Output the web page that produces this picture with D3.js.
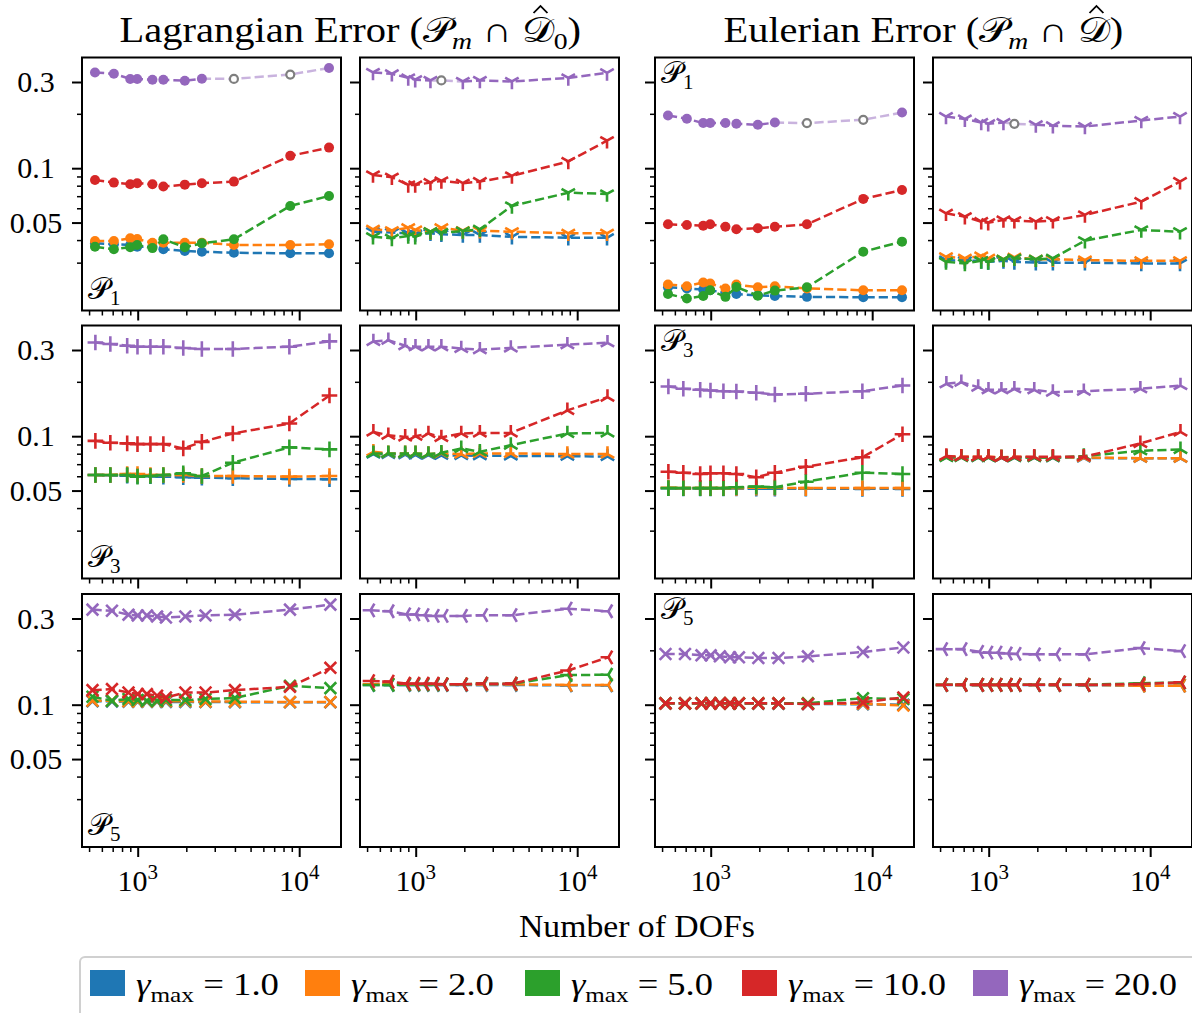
<!DOCTYPE html>
<html><head><meta charset="utf-8">
<script src="https://cdn.jsdelivr.net/npm/d3@7"></script>
<style>
body{margin:0;background:#fff}
svg{display:block}
text{font-family:"Liberation Serif","DejaVu Serif",serif;fill:#000}
</style>
</head><body>
<svg id="chart" width="1192" height="1013"></svg>
<script>
// gamma_max levels and their colours (tab10)
const gammaMax = ["1.0", "2.0", "5.0", "10.0", "20.0"];
const seriesColors = ["#1f77b4", "#ff7f0e", "#2ca02c", "#d62728", "#9467bd"];

// number of degrees of freedom per refinement level, for each polynomial order
const dofsP1 = [544, 712, 899, 993, 1234, 1442, 1958, 2497, 3943, 8806, 15300];
const dofsP3 = [547, 677, 861, 997, 1199, 1442, 1915, 2496, 3881, 8693, 15400];
const dofsP5 = [525, 693, 877, 1000, 1140, 1318, 1496, 1972, 2630, 4000, 8770, 15600];

// Lagrangian error, first scheme (one row per gamma_max)
const lagP1A = [
  [0.0384, 0.0379, 0.0376, 0.0367, 0.0367, 0.0356, 0.0348, 0.0345, 0.0340, 0.0338, 0.0338],
  [0.0395, 0.0395, 0.0409, 0.0405, 0.0387, 0.0387, 0.0387, 0.0387, 0.0376, 0.0376, 0.0379],
  [0.0367, 0.0356, 0.0365, 0.0376, 0.0361, 0.0404, 0.0365, 0.0384, 0.0404, 0.0618, 0.0702],
  [0.0860, 0.0832, 0.0815, 0.0826, 0.0815, 0.0791, 0.0811, 0.0826, 0.0843, 0.117, 0.130],
  [0.339, 0.333, 0.312, 0.312, 0.309, 0.309, 0.305, 0.313, 0.312, 0.330, 0.359]
];
const lagP3A = [
  [0.0610, 0.0608, 0.0605, 0.0602, 0.0600, 0.0597, 0.0593, 0.0590, 0.0585, 0.0580, 0.0578],
  [0.0610, 0.0610, 0.0618, 0.0618, 0.0610, 0.0610, 0.0610, 0.0602, 0.0602, 0.0597, 0.0602],
  [0.0610, 0.0610, 0.0610, 0.0597, 0.0602, 0.0610, 0.0623, 0.0602, 0.0713, 0.0867, 0.0845],
  [0.0942, 0.0919, 0.0912, 0.0904, 0.0904, 0.0904, 0.0856, 0.0930, 0.1035, 0.1175, 0.168],
  [0.330, 0.324, 0.317, 0.313, 0.313, 0.313, 0.308, 0.304, 0.304, 0.313, 0.335]
];
const lagP5A = [
  [0.1045, 0.1043, 0.1040, 0.1040, 0.1038, 0.1038, 0.1036, 0.1035, 0.1034, 0.1033, 0.1031, 0.1031],
  [0.1052, 0.1052, 0.1045, 0.1045, 0.1045, 0.1045, 0.1045, 0.1045, 0.1040, 0.1040, 0.1035, 0.1035],
  [0.1106, 0.1052, 0.1075, 0.1061, 0.1052, 0.1052, 0.1061, 0.1061, 0.1075, 0.1089, 0.1272, 0.1235],
  [0.1204, 0.1220, 0.1168, 0.1145, 0.1145, 0.1121, 0.1097, 0.1168, 0.1168, 0.1204, 0.1256, 0.160],
  [0.336, 0.331, 0.315, 0.312, 0.312, 0.308, 0.304, 0.308, 0.312, 0.315, 0.336, 0.358]
];

// Lagrangian error, second scheme
const lagP1B = [
  [0.0445, 0.0440, 0.0436, 0.0432, 0.0436, 0.0431, 0.0427, 0.0427, 0.0417, 0.0412, 0.0412],
  [0.0459, 0.0451, 0.0468, 0.0455, 0.0445, 0.0468, 0.0451, 0.0451, 0.0445, 0.0436, 0.0436],
  [0.0417, 0.0409, 0.0421, 0.0417, 0.0445, 0.0440, 0.0449, 0.0459, 0.0618, 0.0732, 0.0720],
  [0.0918, 0.0891, 0.0808, 0.0808, 0.0832, 0.0850, 0.0826, 0.0843, 0.0906, 0.109, 0.142],
  [0.339, 0.333, 0.316, 0.309, 0.306, 0.306, 0.302, 0.306, 0.302, 0.316, 0.337]
];
const lagP3B = [
  [0.0796, 0.0793, 0.0790, 0.0788, 0.0786, 0.0784, 0.0782, 0.0780, 0.0778, 0.0775, 0.0772],
  [0.0820, 0.0803, 0.0803, 0.0803, 0.0796, 0.0803, 0.0796, 0.0803, 0.0803, 0.0796, 0.0796],
  [0.0803, 0.0803, 0.0803, 0.0803, 0.0796, 0.0809, 0.0856, 0.0820, 0.0892, 0.1035, 0.1043],
  [0.1056, 0.1013, 0.0991, 0.1000, 0.1035, 0.0984, 0.1035, 0.1043, 0.1043, 0.139, 0.1645],
  [0.3345, 0.340, 0.317, 0.313, 0.313, 0.313, 0.306, 0.301, 0.308, 0.321, 0.329]
];
const lagP5B = [
  [0.1285, 0.1285, 0.1285, 0.1285, 0.1285, 0.1285, 0.1285, 0.1285, 0.1285, 0.1285, 0.1280, 0.1280],
  [0.1297, 0.1297, 0.1297, 0.1297, 0.1297, 0.1297, 0.1297, 0.1297, 0.1297, 0.1297, 0.1286, 0.1286],
  [0.1286, 0.1286, 0.1297, 0.1297, 0.1297, 0.1297, 0.1297, 0.1297, 0.1308, 0.1308, 0.1458, 0.1465],
  [0.1352, 0.1341, 0.1308, 0.1308, 0.1308, 0.1308, 0.1297, 0.1297, 0.1308, 0.1308, 0.1547, 0.183],
  [0.333, 0.329, 0.316, 0.316, 0.313, 0.310, 0.310, 0.310, 0.313, 0.313, 0.340, 0.329]
];

// Eulerian error, first scheme
const eulP1A = [
  [0.0219, 0.0216, 0.0213, 0.0211, 0.0204, 0.0201, 0.0198, 0.0196, 0.0194, 0.0193, 0.0193],
  [0.0227, 0.0222, 0.0233, 0.0230, 0.0216, 0.0227, 0.0219, 0.0222, 0.0216, 0.0211, 0.0211],
  [0.0201, 0.0190, 0.0196, 0.0211, 0.0194, 0.0220, 0.0197, 0.0210, 0.0219, 0.0345, 0.0392],
  [0.0489, 0.0485, 0.0480, 0.0489, 0.0474, 0.0459, 0.0465, 0.0474, 0.0489, 0.0676, 0.0758],
  [0.1957, 0.1877, 0.1777, 0.1777, 0.1777, 0.1761, 0.1738, 0.1790, 0.1777, 0.1853, 0.2034]
];
const eulP3A = [
  [0.0515, 0.0514, 0.0514, 0.0513, 0.0513, 0.0513, 0.0512, 0.0512, 0.0512, 0.0511, 0.0511],
  [0.0518, 0.0516, 0.0517, 0.0516, 0.0516, 0.0517, 0.0518, 0.0518, 0.0516, 0.0516, 0.0516],
  [0.0516, 0.0516, 0.0516, 0.0516, 0.0516, 0.0522, 0.0526, 0.0522, 0.0560, 0.0628, 0.0618],
  [0.0636, 0.0628, 0.0618, 0.0623, 0.0623, 0.0618, 0.0593, 0.0628, 0.0678, 0.0764, 0.1026],
  [0.1884, 0.1830, 0.1807, 0.1791, 0.1775, 0.1769, 0.1740, 0.1703, 0.1718, 0.1775, 0.1908]
];
const eulP5A = [
  [0.1015, 0.1015, 0.1015, 0.1014, 0.1014, 0.1014, 0.1013, 0.1013, 0.1012, 0.1010, 0.1005, 0.1000],
  [0.1017, 0.1017, 0.1017, 0.1017, 0.1017, 0.1017, 0.1017, 0.1017, 0.1017, 0.1017, 0.1012, 0.0990],
  [0.1017, 0.1017, 0.1017, 0.1017, 0.1017, 0.1017, 0.1017, 0.1017, 0.1017, 0.1017, 0.1087, 0.1074],
  [0.1017, 0.1017, 0.1017, 0.1017, 0.1017, 0.1017, 0.1017, 0.1017, 0.1017, 0.1008, 0.1030, 0.1097],
  [0.1908, 0.1908, 0.1876, 0.1876, 0.1852, 0.1829, 0.1829, 0.1814, 0.1814, 0.1852, 0.1956, 0.2074]
];

// Eulerian error, second scheme
const eulP1B = [
  [0.0310, 0.0307, 0.0307, 0.0303, 0.0307, 0.0303, 0.0300, 0.0300, 0.0300, 0.0297, 0.0297],
  [0.0323, 0.0317, 0.0326, 0.0317, 0.0313, 0.0321, 0.0313, 0.0313, 0.0310, 0.0307, 0.0307],
  [0.0303, 0.0297, 0.0307, 0.0303, 0.0313, 0.0317, 0.0313, 0.0317, 0.0397, 0.0455, 0.0445],
  [0.0563, 0.0539, 0.0506, 0.0499, 0.0517, 0.0512, 0.0506, 0.0512, 0.0551, 0.0653, 0.0843],
  [0.1932, 0.1870, 0.1790, 0.1761, 0.1790, 0.1761, 0.1738, 0.1717, 0.1701, 0.1837, 0.1932]
];
const eulP3B = [
  [0.0765, 0.0765, 0.0763, 0.0763, 0.0762, 0.0762, 0.0762, 0.0760, 0.0758, 0.0754, 0.0754],
  [0.0769, 0.0769, 0.0769, 0.0769, 0.0765, 0.0769, 0.0765, 0.0765, 0.0762, 0.0756, 0.0756],
  [0.0762, 0.0762, 0.0762, 0.0762, 0.0762, 0.0762, 0.0762, 0.0762, 0.0776, 0.0830, 0.0845],
  [0.0776, 0.0769, 0.0769, 0.0769, 0.0762, 0.0769, 0.0769, 0.0769, 0.0769, 0.0912, 0.1056],
  [0.195, 0.199, 0.1868, 0.1807, 0.1807, 0.1830, 0.1807, 0.1753, 0.1775, 0.1830, 0.1908]
];
const eulP5B = [
  [0.1285, 0.1285, 0.1285, 0.1285, 0.1285, 0.1285, 0.1285, 0.1285, 0.1285, 0.1283, 0.1275, 0.1275],
  [0.1288, 0.1288, 0.1288, 0.1288, 0.1288, 0.1288, 0.1288, 0.1288, 0.1288, 0.1288, 0.1275, 0.1275],
  [0.1288, 0.1288, 0.1288, 0.1288, 0.1288, 0.1288, 0.1288, 0.1288, 0.1288, 0.1288, 0.1315, 0.1325],
  [0.1288, 0.1288, 0.1288, 0.1288, 0.1288, 0.1288, 0.1288, 0.1288, 0.1288, 0.1288, 0.1300, 0.1330],
  [0.203, 0.203, 0.196, 0.194, 0.194, 0.192, 0.191, 0.190, 0.190, 0.190, 0.2057, 0.198]
];

// runs of the gamma_max = 20 series that did not finish (drawn hollow, faded line)
const unfinishedLagP1A = [8, 9];
const unfinishedLagP1B = [5];
const unfinishedEulP1A = [8, 9];
const unfinishedEulP1B = [5];

// axis ticks
const yMajorTicks = [0.05, 0.1, 0.3];
const yMajorLabels = ["0.05", "0.1", "0.3"];
const yMinorTicks = [0.03, 0.04, 0.06, 0.07, 0.08, 0.09, 0.2];
const xMajorTicks = [1000, 10000];
const xMajorExponents = ["3", "4"];
const xMinorTicks = [500, 600, 700, 800, 900, 2000, 3000, 4000, 5000, 6000, 7000, 8000, 9000];

// ---------- layout ----------
const colLeft = [82, 360, 655, 933];
const rowTop = [57.5, 325.5, 594];
const panelW = 259, panelH = 253;

const svg = d3.select("#chart");

const x = d3.scaleLog().domain([452, 18150]).range([0, panelW]);
const y = d3.scaleLog().domain([0.0163, 0.41]).range([panelH, 0]);

function markerPath(type, r) {
  const p = d3.path();
  const arm = (dx, dy) => { p.moveTo(0, 0); p.lineTo(dx, dy); };
  if (type === "plus") { p.moveTo(-r, 0); p.lineTo(r, 0); p.moveTo(0, -r); p.lineTo(0, r); }
  else if (type === "x") { const a = r * 0.75; p.moveTo(-a, -a); p.lineTo(a, a); p.moveTo(-a, a); p.lineTo(a, -a); }
  else if (type === "tri_down") { arm(0, r); arm(0.866 * r, -0.5 * r); arm(-0.866 * r, -0.5 * r); }
  else if (type === "tri_up") { arm(0, -r); arm(0.866 * r, 0.5 * r); arm(-0.866 * r, 0.5 * r); }
  else if (type === "tri_left") { arm(-r, 0); arm(0.5 * r, -0.866 * r); arm(0.5 * r, 0.866 * r); }
  return p.toString();
}

// stretch a text horizontally so that it spans `width`, centred on cx
function fitWidth(g, textSel, cx, baseline, width) {
  const bb = textSel.node().getBBox();
  const s = width / bb.width;
  g.attr("transform", `translate(${cx - width / 2 - bb.x * s},${baseline}) scale(${s},1)`);
}

const panels = [
  { row: 0, col: 0, dofs: dofsP1, data: lagP1A, marker: "circle", unfinished: unfinishedLagP1A, order: "1", tag: "bottom" },
  { row: 0, col: 1, dofs: dofsP1, data: lagP1B, marker: "tri_down", unfinished: unfinishedLagP1B },
  { row: 0, col: 2, dofs: dofsP1, data: eulP1A, marker: "circle", unfinished: unfinishedEulP1A, order: "1", tag: "top" },
  { row: 0, col: 3, dofs: dofsP1, data: eulP1B, marker: "tri_down", unfinished: unfinishedEulP1B },
  { row: 1, col: 0, dofs: dofsP3, data: lagP3A, marker: "plus", unfinished: [], order: "3", tag: "bottom" },
  { row: 1, col: 1, dofs: dofsP3, data: lagP3B, marker: "tri_up", unfinished: [] },
  { row: 1, col: 2, dofs: dofsP3, data: eulP3A, marker: "plus", unfinished: [], order: "3", tag: "top" },
  { row: 1, col: 3, dofs: dofsP3, data: eulP3B, marker: "tri_up", unfinished: [] },
  { row: 2, col: 0, dofs: dofsP5, data: lagP5A, marker: "x", unfinished: [], order: "5", tag: "bottom" },
  { row: 2, col: 1, dofs: dofsP5, data: lagP5B, marker: "tri_left", unfinished: [] },
  { row: 2, col: 2, dofs: dofsP5, data: eulP5A, marker: "x", unfinished: [], order: "5", tag: "top" },
  { row: 2, col: 3, dofs: dofsP5, data: eulP5B, marker: "tri_left", unfinished: [] }
];

const line = d3.line().x(d => x(d[0])).y(d => y(d[1]));

panels.forEach(pn => {
  const g = svg.append("g").attr("transform", `translate(${colLeft[pn.col]},${rowTop[pn.row]})`);
  const clipId = `clip-${pn.row}-${pn.col}`;
  g.append("clipPath").attr("id", clipId).append("rect").attr("width", panelW).attr("height", panelH);
  const plot = g.append("g").attr("clip-path", `url(#${clipId})`);

  pn.data.forEach((vals, si) => {
    const pts = vals.map((v, i) => [pn.dofs[i], v]);
    const last = si === pn.data.length - 1;
    const faded = new Set(last ? pn.unfinished : []);
    // split into runs of normal / faded segments
    const runs = [];
    let cur = null;
    for (let i = 0; i < pts.length - 1; i++) {
      const f = faded.has(i) || faded.has(i + 1);
      if (!cur || cur.f !== f) { cur = { f, pts: [pts[i]] }; runs.push(cur); }
      cur.pts.push(pts[i + 1]);
    }
    runs.forEach(r => {
      plot.append("path").attr("d", line(r.pts))
        .attr("fill", "none").attr("stroke", seriesColors[si])
        .attr("stroke-width", 2.5).attr("stroke-dasharray", "9.2,4")
        .attr("stroke-opacity", r.f ? 0.5 : 1);
    });
    pts.forEach((p, i) => {
      const cx = x(p[0]), cy = y(p[1]);
      if (faded.has(i)) {
        plot.append("circle").attr("cx", cx).attr("cy", cy).attr("r", 4)
          .attr("fill", "#fff").attr("stroke", "#7f7f7f").attr("stroke-width", 2.2);
      } else if (pn.marker === "circle") {
        plot.append("circle").attr("cx", cx).attr("cy", cy).attr("r", 5)
          .attr("fill", seriesColors[si]);
      } else {
        plot.append("path").attr("d", markerPath(pn.marker, 7.8))
          .attr("transform", `translate(${cx},${cy})`)
          .attr("fill", "none").attr("stroke", seriesColors[si]).attr("stroke-width", 2.6);
      }
    });
  });

  // axes
  const axisY = d3.axisLeft(y).tickValues(yMajorTicks).tickSize(10).tickFormat("");
  const axisYm = d3.axisLeft(y).tickValues(yMinorTicks).tickSize(5).tickFormat("");
  const axisX = d3.axisBottom(x).tickValues(xMajorTicks).tickSize(10).tickFormat("");
  const axisXm = d3.axisBottom(x).tickValues(xMinorTicks).tickSize(5).tickFormat("");
  [[axisY, 2, 0], [axisYm, 1.5, 0], [axisX, 2, panelH], [axisXm, 1.5, panelH]].forEach(([ax, w, ty]) => {
    const a = g.append("g").attr("transform", `translate(0,${ty})`).call(ax);
    a.select(".domain").remove();
    a.selectAll("line").attr("stroke", "#000").attr("stroke-width", w);
  });

  g.append("rect").attr("width", panelW).attr("height", panelH)
    .attr("fill", "none").attr("stroke", "#000").attr("stroke-width", 2);

  if (pn.col === 0) {
    yMajorTicks.forEach((t, i) => {
      g.append("text").attr("x", -46).attr("y", y(t) + 10)
        .attr("text-anchor", "middle").attr("font-size", 30).text(yMajorLabels[i]);
    });
  }
  if (pn.row === 2) {
    xMajorTicks.forEach((t, i) => {
      const tx = g.append("text").attr("x", x(t)).attr("y", panelH + 44)
        .attr("text-anchor", "middle").attr("font-size", 30);
      tx.append("tspan").text("10");
      tx.append("tspan").attr("dy", -12).attr("font-size", 21).text(xMajorExponents[i]);
    });
  }
  if (pn.order) {
    const ty = pn.tag === "top" ? 25 : panelH - 12;
    const t = g.append("text").attr("x", 6).attr("y", ty).attr("font-size", 30);
    t.append("tspan").text("\u{1D4AB}");
    t.append("tspan").attr("dy", 6).attr("font-size", 21).text(pn.order);
  }
});

// column titles
function title(cx, label, sub, width) {
  const g = svg.append("g");
  const t = g.append("text").attr("x", 0).attr("y", 0).attr("font-size", 35);
  t.append("tspan").text(label + " (");
  t.append("tspan").text("\u{1D4AB}");
  t.append("tspan").attr("dy", 7).attr("font-size", 24).attr("font-style", "italic").text("m");
  t.append("tspan").attr("dy", -7).text(" \u2229 ");
  const d = t.append("tspan").text("\u{1D49F}");
  if (sub) t.append("tspan").attr("dy", 7).attr("font-size", 24).text(sub);
  t.append("tspan").attr("dy", sub ? -7 : 0).text(")");
  // circumflex accent over the D
  const bb = d.node().getBBox();
  const hx = bb.x + bb.width * 0.58;
  g.append("path").attr("d", `M${hx - 6},-29 L${hx},-36 L${hx + 6},-29`)
    .attr("fill", "none").attr("stroke", "#000").attr("stroke-width", 1.6);
  fitWidth(g, t, cx, 42, width);
}
title((colLeft[0] + colLeft[1] + panelW) / 2, "Lagrangian Error", "0", 462);
title((colLeft[2] + colLeft[3] + panelW) / 2, "Eulerian Error", null, 400);

{
  const g = svg.append("g");
  const t = g.append("text").attr("font-size", 31).text("Number of DOFs");
  fitWidth(g, t, (colLeft[0] + colLeft[3] + panelW) / 2, 937, 236);
}

// legend
const lg = svg.append("g");
lg.append("rect").attr("x", 80).attr("y", 957).attr("width", 1120).attr("height", 70)
  .attr("rx", 5).attr("fill", "#fff").attr("stroke", "#d0d0d0").attr("stroke-width", 2);
const legendX = [90, 305, 525, 742, 973];
const legendTextW = [143, 143, 142, 158, 158];
gammaMax.forEach((gm, i) => {
  lg.append("rect").attr("x", legendX[i]).attr("y", 970).attr("width", 35).attr("height", 26)
    .attr("fill", seriesColors[i]);
  const g = lg.append("g");
  const t = g.append("text").attr("font-size", 32);
  t.append("tspan").attr("font-style", "italic").text("\u03B3");
  t.append("tspan").attr("dy", 7).attr("font-size", 22).text("max");
  t.append("tspan").attr("dy", -7).text(" = " + gm);
  fitWidth(g, t, legendX[i] + 46 + legendTextW[i] / 2, 995, legendTextW[i]);
});
</script>
</body></html>
